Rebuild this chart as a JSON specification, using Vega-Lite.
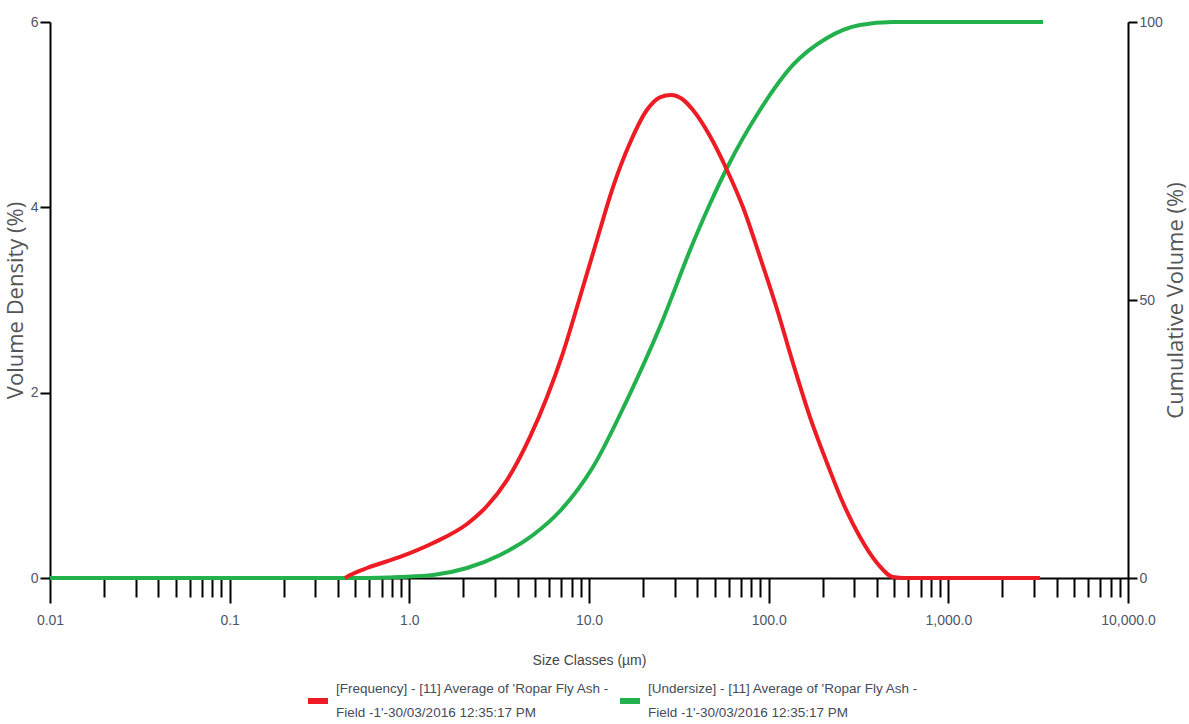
{
  "$schema": "https://vega.github.io/schema/vega-lite/v6.json",
  "width": 1078,
  "height": 556,
  "autosize": {"type": "none"},
  "padding": {"left": 50, "top": 22, "right": 61, "bottom": 146},
  "background": "white",
  "config": {
    "view": {"stroke": null},
    "style": {"guide-label": {"lineHeight": 24}}
  },
  "datasets": {
    "cum": [
      {"size": 0.01, "cum": 0, "series": "[Undersize] - [11] Average of 'Ropar Fly Ash -|Field -1'-30/03/2016 12:35:17 PM"},
      {"size": 0.531, "cum": 0, "series": "[Undersize] - [11] Average of 'Ropar Fly Ash -|Field -1'-30/03/2016 12:35:17 PM"},
      {"size": 0.887, "cum": 0.18, "series": "[Undersize] - [11] Average of 'Ropar Fly Ash -|Field -1'-30/03/2016 12:35:17 PM"},
      {"size": 1.355, "cum": 0.54, "series": "[Undersize] - [11] Average of 'Ropar Fly Ash -|Field -1'-30/03/2016 12:35:17 PM"},
      {"size": 2.095, "cum": 1.8, "series": "[Undersize] - [11] Average of 'Ropar Fly Ash -|Field -1'-30/03/2016 12:35:17 PM"},
      {"size": 3.2, "cum": 4.14, "series": "[Undersize] - [11] Average of 'Ropar Fly Ash -|Field -1'-30/03/2016 12:35:17 PM"},
      {"size": 4.88, "cum": 7.73, "series": "[Undersize] - [11] Average of 'Ropar Fly Ash -|Field -1'-30/03/2016 12:35:17 PM"},
      {"size": 6.9, "cum": 12.05, "series": "[Undersize] - [11] Average of 'Ropar Fly Ash -|Field -1'-30/03/2016 12:35:17 PM"},
      {"size": 10.52, "cum": 19.96, "series": "[Undersize] - [11] Average of 'Ropar Fly Ash -|Field -1'-30/03/2016 12:35:17 PM"},
      {"size": 16.27, "cum": 32.01, "series": "[Undersize] - [11] Average of 'Ropar Fly Ash -|Field -1'-30/03/2016 12:35:17 PM"},
      {"size": 24.8, "cum": 45.14, "series": "[Undersize] - [11] Average of 'Ropar Fly Ash -|Field -1'-30/03/2016 12:35:17 PM"},
      {"size": 37.9, "cum": 60.25, "series": "[Undersize] - [11] Average of 'Ropar Fly Ash -|Field -1'-30/03/2016 12:35:17 PM"},
      {"size": 47.1, "cum": 67.27, "series": "[Undersize] - [11] Average of 'Ropar Fly Ash -|Field -1'-30/03/2016 12:35:17 PM"},
      {"size": 58.6, "cum": 73.74, "series": "[Undersize] - [11] Average of 'Ropar Fly Ash -|Field -1'-30/03/2016 12:35:17 PM"},
      {"size": 89.5, "cum": 84.17, "series": "[Undersize] - [11] Average of 'Ropar Fly Ash -|Field -1'-30/03/2016 12:35:17 PM"},
      {"size": 136.5, "cum": 92.27, "series": "[Undersize] - [11] Average of 'Ropar Fly Ash -|Field -1'-30/03/2016 12:35:17 PM"},
      {"size": 211.2, "cum": 97.12, "series": "[Undersize] - [11] Average of 'Ropar Fly Ash -|Field -1'-30/03/2016 12:35:17 PM"},
      {"size": 322.2, "cum": 99.46, "series": "[Undersize] - [11] Average of 'Ropar Fly Ash -|Field -1'-30/03/2016 12:35:17 PM"},
      {"size": 492, "cum": 100, "series": "[Undersize] - [11] Average of 'Ropar Fly Ash -|Field -1'-30/03/2016 12:35:17 PM"},
      {"size": 3365, "cum": 100, "series": "[Undersize] - [11] Average of 'Ropar Fly Ash -|Field -1'-30/03/2016 12:35:17 PM"}
    ],
    "freq": [
      {"size": 0.4385, "freq": 0, "series": "[Frequency] - [11] Average of 'Ropar Fly Ash -|Field -1'-30/03/2016 12:35:17 PM"},
      {"size": 0.468, "freq": 0.032, "series": "[Frequency] - [11] Average of 'Ropar Fly Ash -|Field -1'-30/03/2016 12:35:17 PM"},
      {"size": 0.581, "freq": 0.108, "series": "[Frequency] - [11] Average of 'Ropar Fly Ash -|Field -1'-30/03/2016 12:35:17 PM"},
      {"size": 0.887, "freq": 0.227, "series": "[Frequency] - [11] Average of 'Ropar Fly Ash -|Field -1'-30/03/2016 12:35:17 PM"},
      {"size": 1.355, "freq": 0.378, "series": "[Frequency] - [11] Average of 'Ropar Fly Ash -|Field -1'-30/03/2016 12:35:17 PM"},
      {"size": 2.095, "freq": 0.583, "series": "[Frequency] - [11] Average of 'Ropar Fly Ash -|Field -1'-30/03/2016 12:35:17 PM"},
      {"size": 2.706, "freq": 0.777, "series": "[Frequency] - [11] Average of 'Ropar Fly Ash -|Field -1'-30/03/2016 12:35:17 PM"},
      {"size": 3.497, "freq": 1.057, "series": "[Frequency] - [11] Average of 'Ropar Fly Ash -|Field -1'-30/03/2016 12:35:17 PM"},
      {"size": 4.695, "freq": 1.522, "series": "[Frequency] - [11] Average of 'Ropar Fly Ash -|Field -1'-30/03/2016 12:35:17 PM"},
      {"size": 5.84, "freq": 1.953, "series": "[Frequency] - [11] Average of 'Ropar Fly Ash -|Field -1'-30/03/2016 12:35:17 PM"},
      {"size": 7.16, "freq": 2.428, "series": "[Frequency] - [11] Average of 'Ropar Fly Ash -|Field -1'-30/03/2016 12:35:17 PM"},
      {"size": 8.91, "freq": 3.032, "series": "[Frequency] - [11] Average of 'Ropar Fly Ash -|Field -1'-30/03/2016 12:35:17 PM"},
      {"size": 11.07, "freq": 3.647, "series": "[Frequency] - [11] Average of 'Ropar Fly Ash -|Field -1'-30/03/2016 12:35:17 PM"},
      {"size": 13.6, "freq": 4.219, "series": "[Frequency] - [11] Average of 'Ropar Fly Ash -|Field -1'-30/03/2016 12:35:17 PM"},
      {"size": 16.9, "freq": 4.694, "series": "[Frequency] - [11] Average of 'Ropar Fly Ash -|Field -1'-30/03/2016 12:35:17 PM"},
      {"size": 21.0, "freq": 5.05, "series": "[Frequency] - [11] Average of 'Ropar Fly Ash -|Field -1'-30/03/2016 12:35:17 PM"},
      {"size": 25.0, "freq": 5.19, "series": "[Frequency] - [11] Average of 'Ropar Fly Ash -|Field -1'-30/03/2016 12:35:17 PM"},
      {"size": 28.6, "freq": 5.212, "series": "[Frequency] - [11] Average of 'Ropar Fly Ash -|Field -1'-30/03/2016 12:35:17 PM"},
      {"size": 33.0, "freq": 5.169, "series": "[Frequency] - [11] Average of 'Ropar Fly Ash -|Field -1'-30/03/2016 12:35:17 PM"},
      {"size": 37.9, "freq": 5.05, "series": "[Frequency] - [11] Average of 'Ropar Fly Ash -|Field -1'-30/03/2016 12:35:17 PM"},
      {"size": 47.1, "freq": 4.77, "series": "[Frequency] - [11] Average of 'Ropar Fly Ash -|Field -1'-30/03/2016 12:35:17 PM"},
      {"size": 58.6, "freq": 4.403, "series": "[Frequency] - [11] Average of 'Ropar Fly Ash -|Field -1'-30/03/2016 12:35:17 PM"},
      {"size": 71.9, "freq": 4.003, "series": "[Frequency] - [11] Average of 'Ropar Fly Ash -|Field -1'-30/03/2016 12:35:17 PM"},
      {"size": 89.5, "freq": 3.464, "series": "[Frequency] - [11] Average of 'Ropar Fly Ash -|Field -1'-30/03/2016 12:35:17 PM"},
      {"size": 111.2, "freq": 2.903, "series": "[Frequency] - [11] Average of 'Ropar Fly Ash -|Field -1'-30/03/2016 12:35:17 PM"},
      {"size": 136.5, "freq": 2.32, "series": "[Frequency] - [11] Average of 'Ropar Fly Ash -|Field -1'-30/03/2016 12:35:17 PM"},
      {"size": 169.8, "freq": 1.737, "series": "[Frequency] - [11] Average of 'Ropar Fly Ash -|Field -1'-30/03/2016 12:35:17 PM"},
      {"size": 211.2, "freq": 1.241, "series": "[Frequency] - [11] Average of 'Ropar Fly Ash -|Field -1'-30/03/2016 12:35:17 PM"},
      {"size": 259.4, "freq": 0.809, "series": "[Frequency] - [11] Average of 'Ropar Fly Ash -|Field -1'-30/03/2016 12:35:17 PM"},
      {"size": 322.2, "freq": 0.442, "series": "[Frequency] - [11] Average of 'Ropar Fly Ash -|Field -1'-30/03/2016 12:35:17 PM"},
      {"size": 400.9, "freq": 0.162, "series": "[Frequency] - [11] Average of 'Ropar Fly Ash -|Field -1'-30/03/2016 12:35:17 PM"},
      {"size": 492, "freq": 0.011, "series": "[Frequency] - [11] Average of 'Ropar Fly Ash -|Field -1'-30/03/2016 12:35:17 PM"},
      {"size": 574, "freq": 0, "series": "[Frequency] - [11] Average of 'Ropar Fly Ash -|Field -1'-30/03/2016 12:35:17 PM"},
      {"size": 3236, "freq": 0, "series": "[Frequency] - [11] Average of 'Ropar Fly Ash -|Field -1'-30/03/2016 12:35:17 PM"}
    ]
  },
  "layer": [
    {
      "data": {"name": "cum"},
      "mark": {"type": "line", "strokeWidth": 4, "interpolate": "monotone"},
      "encoding": {
        "x": {
          "field": "size", "type": "quantitative",
          "scale": {"type": "log", "domain": [0.01, 10000], "nice": false},
          "axis": {
            "orient": "bottom",
            "values": [0.02,0.03,0.04,0.05,0.06,0.07,0.08,0.09,0.2,0.3,0.4,0.5,0.6,0.7,0.8,0.9,2,3,4,5,6,7,8,9,20,30,40,50,60,70,80,90,200,300,400,500,600,700,800,900,2000,3000,4000,5000,6000,7000,8000,9000],
            "tickSize": 19, "tickWidth": 2, "tickColor": "black",
            "labels": false, "domain": false, "title": null, "grid": false
          }
        },
        "y": {
          "field": "cum", "type": "quantitative",
          "scale": {"domain": [0, 100], "nice": false, "zero": true},
          "axis": {
            "orient": "right", "values": [0, 50, 100],
            "tickSize": 9, "tickWidth": 2, "tickColor": "black",
            "domainColor": "black", "domainWidth": 2,
            "labelFont": "Liberation Sans", "labelFontSize": 14, "labelColor": "#4d5669", "labelPadding": 2,
            "title": "Cumulative Volume (%)", "titleFont": "Open Sans", "titleFontSize": 22, "titleFontWeight": "normal",
            "titleColor": "#555555", "titleAngle": 270, "titleBaseline": "top", "titlePadding": 3, "grid": false
          }
        },
        "color": {
          "field": "series", "type": "nominal",
          "scale": {"range": ["#22B14C"]},
          "legend": {
            "orient": "none", "legendX": 567, "legendY": 654, "title": null, "padding": 0,
            "symbolType": "M-1,1.2L1,1.2", "symbolSize": 400, "symbolStrokeWidth": 6,
            "labelExpr": "split(datum.label, '|')",
            "labelFont": "Liberation Sans", "labelFontSize": 13.5, "labelColor": "#454b5a",
            "labelLimit": 500, "labelOffset": 5
          }
        }
      }
    },
    {
      "data": {"name": "freq"},
      "mark": {"type": "line", "strokeWidth": 4, "interpolate": "monotone"},
      "encoding": {
        "x": {
          "field": "size", "type": "quantitative",
          "scale": {"type": "log", "domain": [0.01, 10000], "nice": false},
          "axis": {
            "orient": "bottom",
            "values": [0.01, 0.1, 1, 10, 100, 1000, 10000],
            "labelExpr": "datum.value < 0.05 ? '0.01' : format(datum.value, ',.1f')",
            "tickSize": 25, "tickWidth": 2, "tickColor": "black",
            "domainColor": "black", "domainWidth": 2,
            "labelFont": "Liberation Sans", "labelFontSize": 14, "labelColor": "#4d5669", "labelPadding": 10,
            "labelFlush": false, "labelOverlap": false,
            "title": "Size Classes (µm)", "titleFont": "Liberation Sans", "titleFontSize": 14, "titleFontWeight": "normal",
            "titleColor": "#454545", "titlePadding": 26, "grid": false
          }
        },
        "y": {
          "field": "freq", "type": "quantitative",
          "scale": {"domain": [0, 6], "nice": false},
          "axis": {
            "orient": "left", "values": [0, 2, 4, 6],
            "tickSize": 10, "tickWidth": 2, "tickColor": "black",
            "domainColor": "black", "domainWidth": 2,
            "labelFont": "Liberation Sans", "labelFontSize": 14, "labelColor": "#4d5669", "labelPadding": 2,
            "title": "Volume Density (%)", "titleFont": "Open Sans", "titleFontSize": 22, "titleFontWeight": "normal",
            "titleColor": "#555555", "titlePadding": 3, "grid": false
          }
        },
        "color": {
          "field": "series", "type": "nominal",
          "scale": {"range": ["#ED1C24"]},
          "legend": {
            "orient": "none", "legendX": 255, "legendY": 654, "title": null, "padding": 0,
            "symbolType": "M-1,1.2L1,1.2", "symbolSize": 400, "symbolStrokeWidth": 6,
            "labelExpr": "split(datum.label, '|')",
            "labelFont": "Liberation Sans", "labelFontSize": 13.5, "labelColor": "#454b5a",
            "labelLimit": 500, "labelOffset": 5
          }
        }
      }
    }
  ],
  "resolve": {
    "scale": {"y": "independent", "color": "independent"},
    "axis": {"x": "independent"},
    "legend": {"color": "independent"}
  }
}
